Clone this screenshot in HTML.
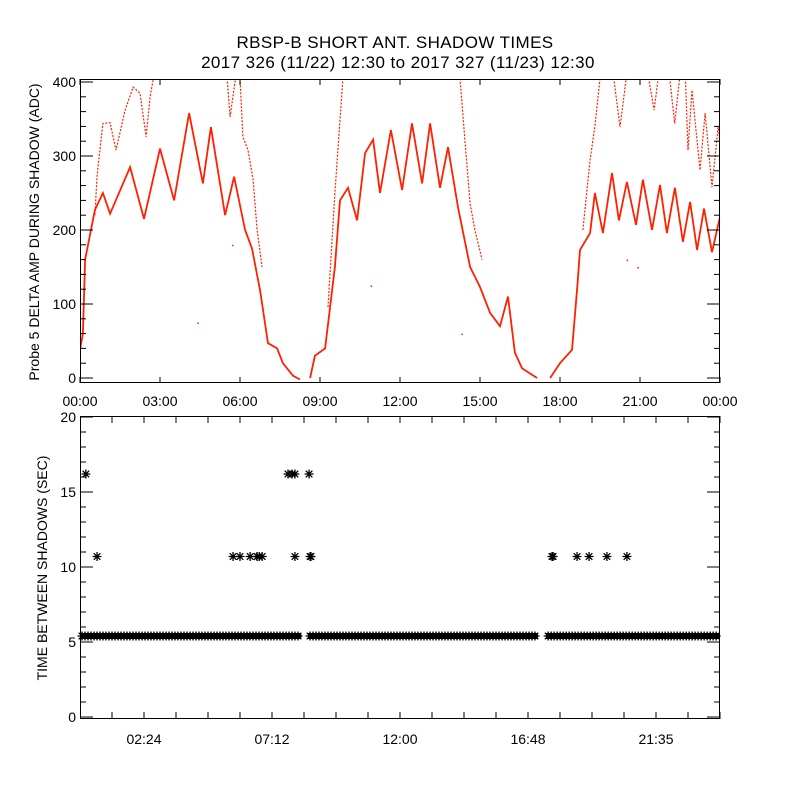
<!DOCTYPE html>
<html><head><meta charset="utf-8"><style>
html,body{margin:0;padding:0;background:#fff;}
svg{display:block;font-family:"Liberation Sans",sans-serif;}
</style></head><body>
<svg id="c" width="800" height="800" xmlns="http://www.w3.org/2000/svg">
<rect width="800" height="800" fill="#fff"/>
<text x="395" y="48" font-size="17" letter-spacing="0.4" text-anchor="middle">RBSP-B SHORT ANT. SHADOW TIMES</text>
<text x="398" y="68" font-size="17" letter-spacing="0.4" text-anchor="middle">2017 326 (11/22) 12:30 to 2017 327 (11/23) 12:30</text>
<text transform="translate(39,232) rotate(-90)" font-size="14" text-anchor="middle">Probe 5 DELTA AMP DURING SHADOW (ADC)</text>
<text transform="translate(47,568) rotate(-90)" font-size="14" text-anchor="middle">TIME BETWEEN SHADOWS (SEC)</text>
<g id="topPanel"></g>
<g id="botPanel"></g>
</svg>
<script>
// ---- top panel data: [hour, ADC] ----
const lowerSeg1 = [[0,38],[0.11,60],[0.19,160],[0.56,227],[0.86,250],[1.13,222],[1.88,285],[2.4,215],[3.0,310],[3.53,240],[4.09,358],[4.61,263],[4.91,339],[5.44,220],[5.78,272],[6.19,200],[6.45,175],[6.75,119],[7.05,47],[7.39,40],[7.61,20],[7.99,3],[8.25,-2]];
const lowerSeg2 = [[8.63,0],[8.81,30],[9.19,40],[9.38,96],[9.56,150],[9.75,240],[10.05,257],[10.39,213],[10.69,304],[10.99,322],[11.25,250],[11.66,335],[12.08,254],[12.45,344],[12.83,263],[13.13,344],[13.5,257],[13.8,312],[14.18,230],[14.63,150],[15.0,123],[15.38,88],[15.75,70],[16.05,110],[16.31,34],[16.58,13],[17.14,0]];
const lowerSeg3 = [[17.63,0],[18.0,20],[18.45,38],[18.64,120],[18.75,173],[19.13,196],[19.31,250],[19.61,196],[19.95,277],[20.21,213],[20.51,265],[20.85,207],[21.11,268],[21.45,200],[21.75,261],[22.01,196],[22.31,257],[22.61,184],[22.88,238],[23.14,173],[23.4,229],[23.7,170],[24,218]];
const upperSegs = [
 [[0.56,220],[0.64,274],[0.86,344],[1.13,345],[1.35,308],[1.69,362],[1.99,393],[2.25,385],[2.48,326],[2.63,380],[2.78,410]],
 [[5.51,410],[5.63,353],[5.85,410]],
 [[6.0,405],[6.11,326],[6.3,308],[6.49,268],[6.64,200],[6.83,150]],
 [[9.3,96],[9.56,250],[9.86,405]],
 [[14.25,405],[14.44,318],[14.63,236],[14.81,200],[15.08,160]],
 [[18.86,200],[19.13,295],[19.31,340],[19.5,405]],
 [[20.0,410],[20.25,339],[20.5,410]],
 [[21.3,410],[21.53,362],[21.7,410]],
 [[22.1,410],[22.3,344],[22.5,410]],
 [[22.7,410],[22.8,308],[22.95,389],[23.25,281],[23.44,358],[23.7,258],[23.93,339],[24,320]]
];
const strayPoints = [[4.4,75],[5.7,180],[10.9,125],[14.3,60],[20.5,160],[20.9,150]];
const topXTicks = [0,3,6,9,12,15,18,21,24];
const topXLabels = ["00:00","03:00","06:00","09:00","12:00","15:00","18:00","21:00","00:00"];
const topYTicks = [0,100,200,300,400];
// ---- bottom panel data ----
const bandValue = 5.4;
const bandSegments = [[0.0,8.3],[8.55,17.17],[17.48,24]];
const outlierHours = [0.22,0.64,5.74,6.0,6.38,6.64,6.83,7.8,8.06,8.59,8.63,8.66,17.7,17.74,18.64,19.09,19.76,20.51];
const outlierValues = [16.2,10.7,10.7,10.7,10.7,10.7,10.7,16.2,16.2,16.2,10.7,10.7,10.7,10.7,10.7,10.7,10.7,10.7];
const extraHigh = [[8.06,10.7],[7.95,16.2],[6.72,10.7]];
const botXTicks = [2.4,7.2,12,16.8,21.6];
const botXLabels = ["02:24","07:12","12:00","16:48","21:35"];
const botYTicks = [0,5,10,15,20];

const NS="http://www.w3.org/2000/svg";
function mk(tag,attrs,parent){const e=document.createElementNS(NS,tag);for(const k in attrs)e.setAttribute(k,attrs[k]);parent.appendChild(e);return e;}
const X0=80,X1=720;
const xs=h=>X0+h*(X1-X0)/24;
const T0=378,TK=0.74; const yt=v=>T0-v*TK;
const B0=717,BK=15; const yb=v=>B0-v*BK;
const topG=document.getElementById('topPanel'), botG=document.getElementById('botPanel');
const clip=mk('clipPath',{id:'tc'},topG); mk('rect',{x:80,y:79,width:640,height:304},clip);
const dataG=mk('g',{'clip-path':'url(#tc)'},topG);


function poly(pts,w,dash,name){
  const p=mk('polyline',{points:pts.map(q=>xs(q[0]).toFixed(1)+','+yt(q[1]).toFixed(1)).join(' '),fill:'none',stroke:'#ff2000','stroke-width':w},dataG);
  if(dash)p.setAttribute('stroke-dasharray',dash);
  
  
}
[lowerSeg1,lowerSeg2,lowerSeg3].forEach(s=>poly(s,1.8,null,'lower-branch'));
upperSegs.forEach(s=>poly(s,1.2,'2 1.5','upper-branch'));
strayPoints.forEach(p=>{const r=mk('rect',{x:xs(p[0]),y:yt(p[1]),width:1.5,height:1.5,fill:'#ff2000'},dataG);
  
  });
const f1=mk('rect',{x:80.5,y:79.5,width:639,height:303,fill:'none',stroke:'#000','stroke-width':1},topG);


topXTicks.forEach((h,i)=>{const x=xs(h);
  mk('line',{x1:x,y1:383,x2:x,y2:377,stroke:'#000'},topG);mk('line',{x1:x,y1:79,x2:x,y2:85,stroke:'#000'},topG);
  const t=mk('text',{x:x,y:406,'font-size':14,'text-anchor':'middle'},topG);t.textContent=topXLabels[i];
  
  });
for(let v=0;v<=400;v+=20){const y=yt(v);const L=(v%100===0)?13:6;
  mk('line',{x1:80,y1:y,x2:80+L,y2:y,stroke:'#000'},topG);mk('line',{x1:720,y1:y,x2:720-L,y2:y,stroke:'#000'},topG);}
topYTicks.forEach(v=>{const t=mk('text',{x:76,y:yt(v)+5,'font-size':14,'text-anchor':'end'},topG);t.textContent=v;
  
  });
function star(x,y,g){const s=4.5;
  mk('path',{d:`M${x-s},${y}H${x+s}M${x},${y-s}V${y+s}M${x-3.3},${y-3.3}L${x+3.3},${y+3.3}M${x-3.3},${y+3.3}L${x+3.3},${y-3.3}`,stroke:'#000','stroke-width':1.3,fill:'none'},g);}
const bandG=mk('g',{},botG);


bandSegments.forEach(s=>{const xa=xs(s[0]),xb=xs(s[1]);
  mk('rect',{x:xa,y:yb(bandValue)-3,width:xb-xa,height:6,fill:'#000'},bandG);
  for(let x=xa+2;x<=xb-2;x+=3)star(x,yb(bandValue),bandG);});
const outG=mk('g',{},botG);


outlierHours.forEach((h,i)=>star(xs(h),yb(outlierValues[i]),outG));
extraHigh.forEach(p=>star(xs(p[0]),yb(p[1]),outG));
const f2=mk('rect',{x:80.5,y:416.5,width:639,height:302,fill:'none',stroke:'#000','stroke-width':1},botG);


for(let h=1.2;h<24;h+=1.2){const x=xs(h);
  mk('line',{x1:x,y1:719,x2:x,y2:712,stroke:'#000'},botG);mk('line',{x1:x,y1:416,x2:x,y2:423,stroke:'#000'},botG);}
botXTicks.forEach((h,i)=>{const t=mk('text',{x:xs(h),y:744,'font-size':14,'text-anchor':'middle'},botG);t.textContent=botXLabels[i];
  
  });
for(let v=0;v<=20;v++){const y=yb(v);const L=(v%5===0)?13:6;
  mk('line',{x1:80,y1:y,x2:80+L,y2:y,stroke:'#000'},botG);mk('line',{x1:720,y1:y,x2:720-L,y2:y,stroke:'#000'},botG);}
botYTicks.forEach(v=>{const t=mk('text',{x:76,y:yb(v)+5,'font-size':14,'text-anchor':'end'},botG);t.textContent=v;
  
  });
</script>
</body></html>
